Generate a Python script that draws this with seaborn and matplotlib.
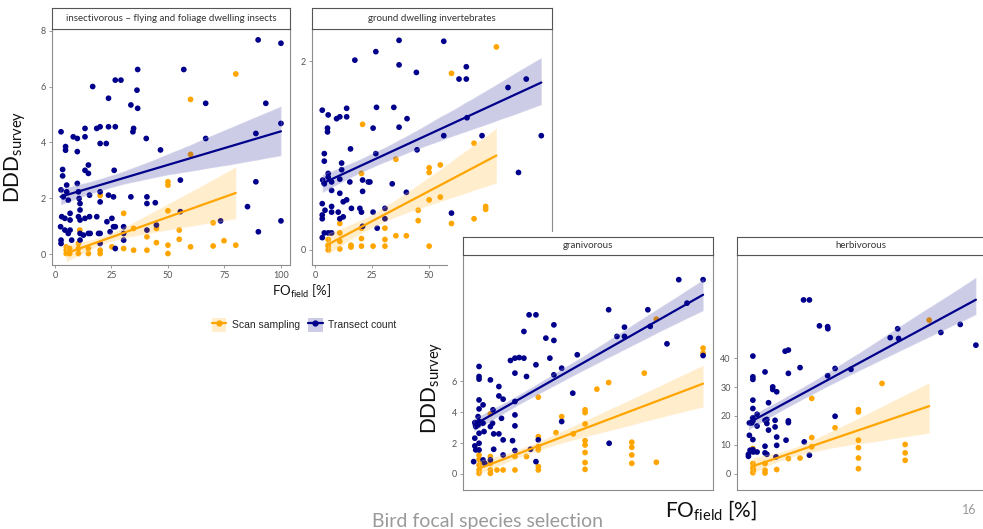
import numpy as np
import pandas as pd
import matplotlib
matplotlib.use("Agg")
import matplotlib.pyplot as plt
import seaborn as sns
from matplotlib.patches import Rectangle, Patch
from matplotlib.lines import Line2D

# ---- data ----
# insectivorous
ins_tran_x = [2.7, 3.4, 3.4, 2.7, 3.7, 3, 2.5, 2.7, 2.7, 4.7, 4.7, 5.2, 5.2, 5.9, 6.7, 6.7, 6.7, 7.4,
              8.1, 9.9, 9.9, 9.9, 10.4, 10.7, 11.1, 11.1, 11.1, 11.1, 11.1, 13.3, 13.3, 13.3, 14.8, 14.8,
              15.3, 15.3, 15.6, 16.7, 18.5, 20, 20, 20, 20, 20, 22.7, 23.7, 23.7, 23.7, 25.2, 25.9, 26.2,
              26.7, 26.7, 26.7, 29.2, 33.6, 33.6, 34.5, 34.8, 36.3, 36.6, 36.6, 40.4, 40.7, 40.7, 40.7,
              44.4, 44.9, 46.7, 55.5, 55.5, 57, 66.7, 66.7, 73.3, 85.2, 88.9, 88.9, 89.9, 90, 93.3, 100,
              100, 100, 5.9, 4.4, 10.4, 12.6, 13.3, 14.8, 18.5, 19.3, 20, 23, 24.4, 25.9, 30.4, 30.4,
              30.4, 26.7, 4.4]
ins_tran_y = [4.38, 3.03, 2.8, 2.3, 2.05, 1.34, 0.98, 0.5, 0.38, 3.85, 3.72, 2.47, 2.23, 1.93, 1.46,
              1.22, 0.86, 0.5, 4.2, 4.14, 3.67, 2.53, 2.23, 1.99, 1.81, 1.58, 1.22, 0.74, 0.5, 4.5, 4.2,
              3.0, 3.19, 2.89, 2.11, 1.34, 0.74, 6.0, 4.5, 4.56, 3.96, 2.23, 1.87, 0.74, 3.96, 4.56, 2.11,
              5.58, 1.28, 2.05, 3.0, 6.23, 4.56, 0.2, 6.23, 5.34, 2.05, 4.38, 4.5, 5.87, 6.61, 5.22, 4.14,
              2.05, 1.81, 0.86, 1.84, 1.04, 3.73, 2.65, 1.52, 6.61, 5.4, 4.14, 1.19, 1.7, 2.59, 4.32,
              7.67, 0.8, 5.4, 7.55, 4.68, 1.19, 0.74, 0.86, 1.34, 0.68, 1.28, 0.74, 1.34, 0.74, 0.38,
              1.16, 0.8, 0.98, 0.98, 0.74, 0.5, 0.98, 1.28]
ins_scan_x = [5, 5, 5, 6.5, 6.5, 10.4, 10.4, 10.4, 11, 14.8, 14.8, 20, 20, 20, 25.2, 30.4, 30.4, 34.8,
              34.8, 40.7, 40.7, 44.9, 44.9, 50, 50, 50, 50, 50, 55, 55, 60, 60, 60, 70, 70, 74.8, 80, 80]
ins_scan_y = [0.26, 0.14, 0.02, 0.2, 0.02, 0.2, 0.02, 0.38, 0.86, 0.2, 0.02, 0.14, 0.02, 2.1, 0.26,
              1.46, 0.2, 0.92, 0.14, 0.62, 0.14, 0.92, 0.41, 2.59, 2.47, 1.55, 0.32, 0.02, 0.86, 0.53,
              5.54, 3.57, 0.26, 1.12, 0.29, 0.48, 6.45, 0.32]

# ground dwelling invertebrates
gro_tran_x = [3.2, 5.8, 5.5, 5.5, 9.5, 10.9, 13.9, 13.9, 15.6, 4.1, 4.1, 5.8, 5.8, 3.4, 4.1, 7.3, 7.3,
              10.9, 11.7, 11.7, 15.3, 20.9, 20.9, 23.4, 24.1, 17.5, 26.7, 27, 26.7, 25.5, 34.6, 36.9,
              36.9, 36.9, 40.4, 40.1, 33.9, 44.5, 44.8, 56.5, 56.5, 59.9, 63.2, 66.4, 66.4, 66.7, 73.3,
              84.7, 89.3, 92.7, 99.3, 3.2, 3.2, 3.2, 4.4, 4.1, 3.2, 5.8, 7.3, 7.3, 7.3, 10.2, 10.9, 12.4,
              13.9, 16, 19.7, 20.4, 20.9, 25.5, 27.3, 30.7, 30.7, 10.9, 12.4]
gro_tran_y = [1.48, 1.43, 1.29, 1.25, 1.39, 1.41, 1.5, 1.41, 1.07, 1.02, 0.94, 0.81, 0.77, 0.74, 0.7,
              0.72, 0.63, 0.75, 0.92, 0.85, 0.72, 0.74, 0.62, 0.72, 0.72, 2.01, 2.1, 1.51, 1.02, 1.29,
              1.51, 2.22, 1.96, 1.3, 1.39, 0.61, 0.7, 1.88, 1.06, 2.21, 1.21, 0.39, 1.81, 1.94, 1.81,
              1.4, 1.21, 1.72, 0.82, 1.81, 1.21, 0.49, 0.37, 0.33, 0.42, 0.18, 0.13, 0.18, 0.18, 0.46,
              0.40, 0.40, 0.33, 0.35, 0.53, 0.44, 0.44, 0.4, 0.25, 0.4, 0.23, 0.44, 0.33, 0.6, 0.51]
gro_scan_x = [5.8, 5.8, 5.8, 5.8, 6.6, 10.9, 10.9, 10.9, 10.9, 15.8, 15.8, 20.4, 20.9, 20.4, 20.4, 20.4,
              25.5, 30.7, 30.7, 30.7, 35.5, 35.5, 40.1, 45.3, 45.3, 50.1, 50.1, 50.1, 50.1, 55, 55, 59.9,
              59.9, 69.8, 69.8, 74.9, 74.9, 79.6]
gro_scan_y = [0.04, 0.0, 0.05, 0.11, 0.18, 0.28, 0.18, 0.09, 0.01, 0.05, 0.03, 0.81, 1.33, 0.23, 0.12,
              0.04, 0.04, 0.23, 0.11, 0.04, 0.96, 0.15, 0.15, 0.42, 0.31, 0.87, 0.82, 0.53, 0.04, 0.9,
              0.56, 1.87, 0.28, 1.13, 0.33, 0.46, 0.43, 2.15]

# granivorous
gra_tran_x = [5.1, 5.1, 5.1, 5.1, 5.1, 4.7, 5.1, 4.7, 3.3, 3.7, 3.3, 3.3, 3.7, 2.8, 5.1, 5.1, 5.1, 6.8,
              6.8, 7.2, 6.8, 7.5, 9.9, 9.9, 10.8, 11, 11.3, 11.3, 9.9, 13.5, 13.5, 15.3, 13.5, 15.3, 14.6,
              15.3, 19.3, 20.3, 20.3, 20.3, 20.3, 20.3, 18.4, 20.3, 22.1, 24.1, 24.1, 25.2, 26.3, 29.2,
              26.9, 29.2, 29.2, 30.2, 33.4, 35.1, 36.8, 36.8, 36.8, 40.1, 40.1, 44.8, 46.7, 60, 60.2,
              63.5, 66.7, 66.7, 76.6, 77.6, 84.7, 89.7, 93.2, 100, 100]
gra_tran_y = [6.97, 6.32, 6.15, 4.8, 4.22, 3.72, 3.4, 3.18, 3.33, 3.07, 2.32, 1.82, 1.56, 0.8, 2.64,
              1.99, 1.56, 4.48, 3.29, 2.75, 0.91, 0.69, 6.1, 3.07, 3.29, 4.16, 2.6, 1.6, 0.91, 5.67, 5.06,
              4.85, 2.6, 2.21, 3.61, 1.23, 2.16, 6.54, 4.7, 3.83, 3.12, 1.52, 7.36, 7.51, 7.55, 7.51,
              9.24, 6.32, 10.32, 10.32, 1.6, 7.08, 0.8, 2.21, 8.81, 7.51, 9.67, 8.66, 6.43, 6.86, 3.4,
              5.24, 7.73, 10.65, 1.99, 8.92, 9.52, 8.92, 10.65, 9.57, 8.44, 12.6, 11.08, 12.6, 7.68]
gra_scan_x = [5.1, 5.1, 5.1, 5.1, 5.1, 6.1, 9.9, 9.9, 9.9, 9.9, 9.9, 12.7, 15.3, 20.3, 20.3, 25.2, 30.2,
              30.2, 30.2, 30.2, 30.2, 30.2, 37.7, 40.1, 45, 50, 50, 50, 50, 50, 50, 50, 50, 55, 60, 69.8,
              69.8, 69.8, 69.8, 75.1, 80.2, 80.2, 100, 100]
gra_scan_y = [1.23, 0.95, 0.58, 0.26, 0.04, 0.8, 3.9, 1.13, 0.69, 0.26, 0.04, 0.26, 0.26, 1.13, 0.26,
              1.13, 4.98, 2.42, 1.77, 1.56, 0.48, 0.26, 2.68, 3.72, 2.6, 4.16, 3.98, 3.25, 2.16, 1.88,
              1.39, 0.74, 0.3, 5.5, 5.93, 2.06, 1.73, 1.23, 0.69, 6.54, 10.04, 0.76, 8.16, 7.84]

# herbivorous
her_tran_x = [2.5, 2.5, 2.9, 2.9, 3.9, 4.4, 4.4, 4.4, 4.4, 4.4, 4.4, 4.4, 4.4, 4.4, 4.6, 3.2, 6.2, 6.2,
              6.2, 9.6, 9.6, 10.4, 10.4, 9.6, 9.6, 10.4, 11.1, 11.1, 12.9, 12.9, 14.6, 13.9, 13.9, 14.6,
              14.6, 14.3, 18.6, 19.6, 18.2, 19.6, 19.6, 19.6, 24.6, 26.1, 28.6, 26.4, 28.6, 32.9, 36.4,
              36.5, 36.4, 39.6, 39.6, 46.4, 63.2, 66.4, 66.8, 84.9, 93.2, 99.9]
her_tran_y = [6.7, 6.0, 13.3, 17.6, 17.6, 40.8, 33.6, 32.7, 25.5, 22.6, 19.4, 18.3, 11.8, 8.3, 7.5, 8.1,
              20.6, 16.5, 7.5, 35.3, 18.5, 17.4, 18.8, 9.5, 7.2, 6.7, 24.6, 15.1, 30.1, 29.2, 28.4, 16.2,
              18.5, 12.7, 9.8, 5.8, 11.6, 42.9, 42.5, 34.8, 18.3, 17.7, 36.8, 60.3, 60.3, 11.0, 6.4,
              51.3, 51.0, 50.3, 34.0, 36.5, 19.9, 36.2, 47.2, 50.3, 46.9, 49.0, 51.8, 44.6]
her_scan_x = [4.4, 4.4, 4.4, 4.4, 4.6, 4.4, 9.6, 9.6, 9.6, 14.6, 19.6, 24.6, 29.6, 29.6, 29.6, 39.6,
              49.6, 49.6, 49.6, 49.6, 49.6, 49.6, 59.7, 69.6, 69.6, 69.6, 79.9]
her_scan_y = [8.7, 7.8, 3.5, 2.0, 1.2, 0.3, 3.5, 1.2, 0.2, 1.4, 5.2, 5.4, 26.1, 12.5, 9.3, 15.9, 22.2,
              21.4, 11.6, 9.0, 5.4, 1.7, 31.3, 10.1, 7.2, 4.6, 53.3]

titles = ["insectivorous \u2013 flying and foliage dwelling insects", "ground dwelling invertebrates",
          "granivorous", "herbivorous"]
methods = ["Scan sampling", "Transect count"]
palette = {"Scan sampling": "#FFA500", "Transect count": "#00008B"}

series = [
    (ins_scan_x, ins_scan_y, ins_tran_x, ins_tran_y),
    (gro_scan_x, gro_scan_y, gro_tran_x, gro_tran_y),
    (gra_scan_x, gra_scan_y, gra_tran_x, gra_tran_y),
    (her_scan_x, her_scan_y, her_tran_x, her_tran_y),
]
rows = []
for t, (sx, sy, tx, ty) in zip(titles, series):
    rows += [(t, methods[0], a, b) for a, b in zip(sx, sy)]
    rows += [(t, methods[1], a, b) for a, b in zip(tx, ty)]
df = pd.DataFrame(rows, columns=["guild", "method", "fo", "ddd"])

# ---- layout (pixel boxes of the slide) ----
sns.set_theme(style="white")
plt.rcParams["font.family"] = ["Lato", "DejaVu Sans"]
W, H = 983, 529
fig = plt.figure(figsize=(W / 100, H / 100), dpi=100)


def px_axes(x0, y0, x1, y1, z):
    return fig.add_axes([x0 / W, 1 - y1 / H, (x1 - x0) / W, (y1 - y0) / H], zorder=z)


panels = [
    dict(box=(52, 29, 290, 265), strip=8, xlim=(-1.3, 104), ylim=(-0.39, 8.06),
         yt=[0, 2, 4, 6, 8], xt=[0, 25, 50, 75, 100], z=1),
    dict(box=(312, 29, 552, 265), strip=8, xlim=(-1.3, 104), ylim=(-0.16, 2.34),
         yt=[0, 2], xt=[0, 25, 50, 75, 100], z=1),
    dict(box=(463, 255, 713, 490), strip=237, xlim=(-1.7, 104.2), ylim=(-1.04, 14.2),
         yt=[0, 2, 4, 6], xt=[], z=3),
    dict(box=(737, 255, 985, 490), strip=237, xlim=(-2.4, 103.8), ylim=(-5.7, 75.9),
         yt=[0, 10, 20, 30, 40], xt=[], z=3),
]

# white card behind the lower row, covering the upper-right panel
fig.add_artist(Rectangle((448 / W, 0), 1, 1 - 232 / H, transform=fig.transFigure,
                         facecolor="white", edgecolor="none", zorder=2))

border = "#8c8c8c"
for t, p in zip(titles, panels):
    x0, y0, x1, y1 = p["box"]
    ax = px_axes(x0, y0, x1, y1, p["z"])
    sub = df[df["guild"] == t]
    sns.scatterplot(data=sub, x="fo", y="ddd", hue="method", palette=palette, hue_order=methods,
                    s=17, edgecolor="none", legend=False, ax=ax)
    for m in methods:
        d = sub[sub["method"] == m]
        sns.regplot(data=d, x="fo", y="ddd", scatter=False, color=palette[m], ci=80, seed=1,
                    line_kws=dict(lw=1.6), ax=ax)
    for c in ax.collections[1:]:
        c.set_alpha(0.2)
    ax.set_xlim(*p["xlim"])
    ax.set_ylim(*p["ylim"])
    ax.set_yticks(p["yt"])
    ax.set_xticks(p["xt"])
    ax.set_xlabel("")
    ax.set_ylabel("")
    ax.tick_params(length=2.5, width=0.6, color=border, labelsize=6.5, labelcolor="#555555", pad=2,
                   left=True, bottom=bool(p["xt"]))
    for s in ax.spines.values():
        s.set_color(border)
        s.set_linewidth(0.8)
    sa = px_axes(x0, p["strip"], x1, y0, p["z"])
    sa.set_xticks([])
    sa.set_yticks([])
    sa.set_facecolor("white")
    for s in sa.spines.values():
        s.set_color("#555555")
        s.set_linewidth(0.8)
    sa.text(0.5, 0.5, t, ha="center", va="center", fontsize=7, color="#333333", transform=sa.transAxes)

# axis titles
fig.text(15 / W, 1 - 157 / H, r"$\mathregular{DDD_{survey}}$", rotation=90, ha="center", va="center",
         fontsize=15, color="#111111")
fig.text(432 / W, 1 - 388 / H, r"$\mathregular{DDD_{survey}}$", rotation=90, ha="center", va="center",
         fontsize=15, color="#111111", zorder=4)
fig.text(302 / W, 1 - 291 / H, r"$\mathregular{FO_{field}}$ [%]", ha="center", va="center",
         fontsize=9.5, color="#111111")
fig.text(711 / W, 1 - 510 / H, r"$\mathregular{FO_{field}}$ [%]", ha="center", va="center",
         fontsize=15, color="#111111", zorder=4)

# legend
handles = [(Patch(facecolor=palette[m], alpha=0.2, edgecolor="none"),
            Line2D([], [], color=palette[m], lw=1.6, marker="o", markersize=3.5)) for m in methods]
fig.legend(handles, methods, loc="center", bbox_to_anchor=(304 / W, 1 - 325 / H), ncol=2, frameon=False,
           handlelength=1.4, handleheight=1.6, columnspacing=0.8, handletextpad=0.5,
           prop={"family": "Liberation Sans", "size": 7.5})

# slide footer
fig.text(487 / W, 1 - 513 / H, "Bird focal species selection", ha="center", va="top", fontsize=14,
         color="#9a9a9a", zorder=4)
fig.text(962 / W, 1 - 510 / H, "16", ha="left", va="center", fontsize=9, color="#9a9a9a", zorder=4)

fig.savefig("out.png", dpi=100)
